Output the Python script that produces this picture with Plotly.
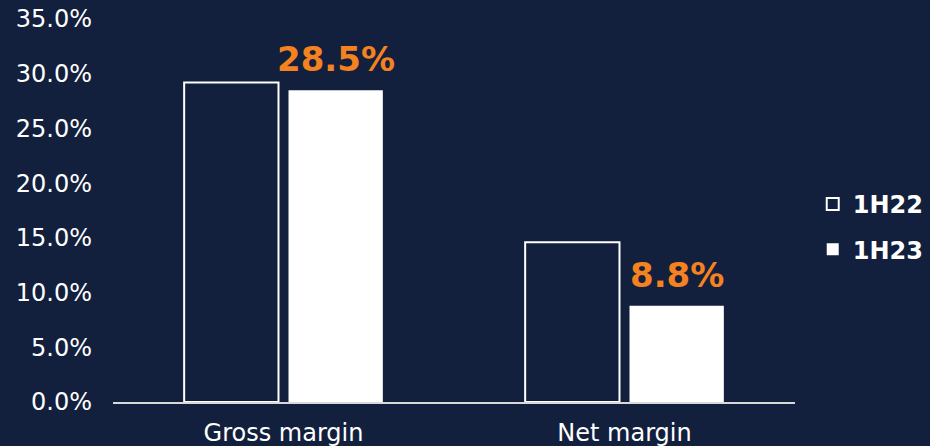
import plotly.graph_objects as go

categories = ["Gross margin", "Net margin"]
series_names = ["1H22", "1H23"]
values_1h22 = [29.2, 14.6]
values_1h23 = [28.5, 8.8]
tick_vals = [0, 5, 10, 15, 20, 25, 30, 35]
tick_text = ["0.0%", "5.0%", "10.0%", "15.0%", "20.0%", "25.0%", "30.0%", "35.0%"]

BG = "#12203D"
ORANGE = "#F58220"
FONT = "DejaVu Sans, Verdana, sans-serif"

fig = go.Figure()
fig.add_trace(go.Bar(
    name=series_names[0], x=categories, y=values_1h22,
    marker=dict(color=BG, line=dict(color="white", width=2)),
    legendgroup="a",
))
fig.add_trace(go.Bar(
    name=series_names[1], x=categories, y=values_1h23,
    marker=dict(color="white", line=dict(color="white", width=0)),
    legendgroup="b",
))

for cat, v in zip(categories, values_1h23):
    fig.add_annotation(
        x=cat, y=v, xref="x", yref="y",
        text=f"{v:.1f}%", showarrow=False,
        xanchor="center", yanchor="bottom",
        xshift=52, yshift=9,
        font=dict(color=ORANGE, size=34, family=FONT, weight="bold"),
    )

fig.update_layout(
    width=930, height=446,
    paper_bgcolor=BG, plot_bgcolor=BG,
    margin=dict(l=113, r=135, t=19, b=44, autoexpand=False),
    barmode="group", bargap=0.388, bargroupgap=0.096,
    font=dict(family=FONT, color="white", size=24),
    showlegend=True,
    legend=dict(
        x=1.026, xanchor="left", y=0.457, yanchor="middle",
        font=dict(size=24, color="white", family=FONT, weight="bold"),
        traceorder="grouped", tracegroupgap=11,
        bgcolor="rgba(0,0,0,0)",
    ),
    xaxis=dict(
        showline=True, linecolor="#D9D9D9", linewidth=2,
        showgrid=False, ticks="", zeroline=False,
        ticklabelstandoff=8,
        tickfont=dict(size=24, color="white"),
    ),
    yaxis=dict(
        range=[0, 35], tickvals=tick_vals, ticktext=tick_text,
        showgrid=False, zeroline=False, showline=False,
        ticklabelstandoff=20,
        tickfont=dict(size=24, color="white"),
    ),
)

fig.write_html("out.html")
